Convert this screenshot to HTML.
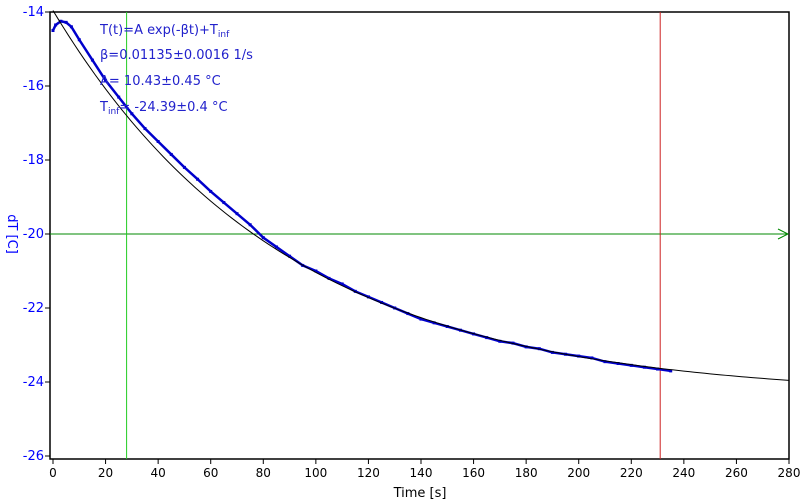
<!DOCTYPE html>
<html><head><meta charset="utf-8"><style>
body{margin:0;background:#fff;width:800px;height:504px;overflow:hidden}
svg{display:block;font-family:"DejaVu Sans","Liberation Sans",sans-serif}
</style></head><body>
<svg id="chart" width="800" height="504">
<rect x="50" y="12" width="739" height="447" fill="none" stroke="#000" stroke-width="1.5"/>
<g id="ticks"></g>
<g id="series"></g>
<text x="420" y="497" font-size="13" text-anchor="middle">Time [s]</text>
<text x="8" y="234" font-size="13" fill="#00f" text-anchor="middle" transform="rotate(90 8 234)">dT [C]</text>
<g fill="#22c" font-size="13">
<text x="100" y="34">T(t)=A exp(-βt)+T<tspan font-size="9" dy="3">inf</tspan></text>
<text x="100" y="59">β=0.01135±0.0016 1/s</text>
<text x="100" y="85">A= 10.43±0.45 °C</text>
<text x="100" y="111">T<tspan font-size="9" dy="3">inf</tspan><tspan dy="-3">= -24.39±0.4 °C</tspan></text>
</g>
</svg>
<script>
const xTicks=[0,20,40,60,80,100,120,140,160,180,200,220,240,260,280];
const yTicks=[-14,-16,-18,-20,-22,-24,-26];
const times=[0,1,3,5,7,10,15,20,25,30,35,40,45,50,55,60,65,70,75,80,85,90,95,100,105,110,115,120,125,130,135,140,145,150,155,160,165,170,175,180,185,190,195,200,205,210,215,220,225,230,235];
const temps=[-14.5,-14.35,-14.25,-14.28,-14.4,-14.75,-15.3,-15.85,-16.3,-16.75,-17.15,-17.5,-17.85,-18.2,-18.52,-18.85,-19.15,-19.45,-19.75,-20.1,-20.35,-20.6,-20.85,-21.0,-21.2,-21.35,-21.55,-21.7,-21.85,-22.0,-22.15,-22.3,-22.4,-22.5,-22.6,-22.7,-22.8,-22.9,-22.95,-23.05,-23.1,-23.2,-23.25,-23.3,-23.35,-23.45,-23.5,-23.55,-23.6,-23.65,-23.7];
const fitParams=[10.43,0.01135,-24.39]; // A, beta, Tinf
const markerT=[28,231];
const refTemp=[-20];
const X=t=>53+(t/280)*736;
const Y=v=>12+((-14-v)/12)*444;
const NS='http://www.w3.org/2000/svg';
function mk(tag,attrs,parent){const e=document.createElementNS(NS,tag);for(const k in attrs)e.setAttribute(k,attrs[k]);parent.appendChild(e);return e;}
const tg=document.getElementById('ticks'),sg=document.getElementById('series');
xTicks.forEach(t=>{
 const l=mk('line',{x1:X(t),x2:X(t),y1:459,y2:464,stroke:'#000'},tg);
 
 
 const tx=mk('text',{x:X(t),y:477,'font-size':12,'text-anchor':'middle'},tg);tx.textContent=t;
 
 
});
yTicks.forEach(v=>{
 const l=mk('line',{x1:45,x2:50,y1:Y(v),y2:Y(v),stroke:'#000'},tg);
 
 
 const tx=mk('text',{x:44,y:Y(v)+4,'font-size':13,'text-anchor':'end',fill:'#00f'},tg);tx.textContent=v;
 
 
});
const h=mk('line',{x1:50,x2:788,y1:Y(refTemp[0]),y2:Y(refTemp[0]),stroke:'#080'},sg);


const ar=mk('polyline',{points:`${778},${Y(refTemp[0])-5} ${788},${Y(refTemp[0])} ${778},${Y(refTemp[0])+5}`,fill:'none',stroke:'#080'},sg);


const g1=mk('line',{x1:X(markerT[0]),x2:X(markerT[0]),y1:12,y2:459,stroke:'#2c2'},sg);


const r1=mk('line',{x1:X(markerT[1]),x2:X(markerT[1]),y1:12,y2:459,stroke:'#c22'},sg);


const pl=mk('polyline',{points:times.map((t,i)=>X(t)+','+Y(temps[i])).join(' '),fill:'none',stroke:'#00c','stroke-width':2.5},sg);


times.forEach((t,i)=>{
 const r=mk('rect',{x:X(t)-1.5,y:Y(temps[i])-1.5,width:3,height:3,fill:'#00c'},sg);
 
 
});
const fp=[];for(let t=0;t<=280;t+=2)fp.push(X(t)+','+Y(fitParams[0]*Math.exp(-fitParams[1]*t)+fitParams[2]));
const fl=mk('polyline',{points:fp.join(' '),fill:'none',stroke:'#000','stroke-width':1},sg);


</script>
</body></html>
